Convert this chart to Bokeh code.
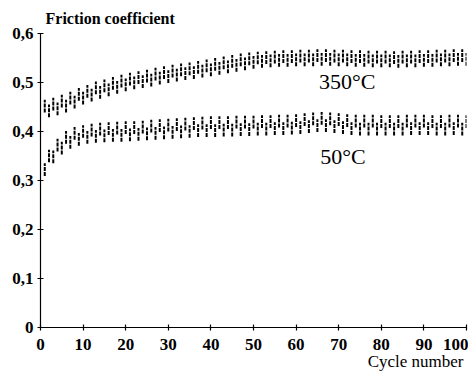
from bokeh.plotting import figure
from bokeh.models import Label, FixedTicker, Range1d, Title
from bokeh.embed import file_html
from bokeh.resources import INLINE

cycles = list(range(1, 101))

mu_350 = [0.452, 0.442, 0.456, 0.446, 0.462, 0.452, 0.468, 0.460, 0.476, 0.468,
          0.482, 0.474, 0.489, 0.480, 0.493, 0.485, 0.498, 0.490, 0.503, 0.495,
          0.507, 0.499, 0.510, 0.502, 0.513, 0.505, 0.517, 0.509, 0.520, 0.512,
          0.523, 0.515, 0.526, 0.518, 0.528, 0.520, 0.531, 0.523, 0.534, 0.526,
          0.537, 0.529, 0.540, 0.532, 0.543, 0.535, 0.546, 0.538, 0.548, 0.541,
          0.550, 0.543, 0.551, 0.544, 0.552, 0.545, 0.553, 0.545, 0.553, 0.546,
          0.554, 0.546, 0.554, 0.546, 0.555, 0.547, 0.555, 0.547, 0.554, 0.546,
          0.554, 0.546, 0.553, 0.545, 0.553, 0.545, 0.552, 0.544, 0.552, 0.544,
          0.552, 0.544, 0.551, 0.543, 0.552, 0.544, 0.552, 0.544, 0.553, 0.545,
          0.553, 0.545, 0.554, 0.546, 0.554, 0.546, 0.555, 0.547, 0.555, 0.547]

mu_50 = [0.322, 0.350, 0.348, 0.372, 0.366, 0.388, 0.378, 0.396, 0.384, 0.400,
         0.388, 0.403, 0.390, 0.405, 0.391, 0.406, 0.392, 0.407, 0.392, 0.408,
         0.393, 0.408, 0.394, 0.409, 0.395, 0.411, 0.396, 0.412, 0.397, 0.413,
         0.398, 0.414, 0.399, 0.415, 0.400, 0.416, 0.402, 0.417, 0.402, 0.418,
         0.402, 0.418, 0.403, 0.418, 0.403, 0.419, 0.404, 0.419, 0.404, 0.419,
         0.405, 0.420, 0.405, 0.420, 0.406, 0.421, 0.406, 0.421, 0.407, 0.422,
         0.408, 0.424, 0.410, 0.426, 0.412, 0.427, 0.412, 0.426, 0.410, 0.424,
         0.408, 0.422, 0.406, 0.421, 0.405, 0.421, 0.405, 0.421, 0.405, 0.420,
         0.405, 0.420, 0.405, 0.420, 0.405, 0.421, 0.406, 0.421, 0.406, 0.421,
         0.406, 0.420, 0.405, 0.420, 0.405, 0.421, 0.406, 0.421, 0.405, 0.420]

half_range_350 = 0.013
half_range_50 = 0.013

x_ticks = [0, 10, 20, 30, 40, 50, 60, 70, 80, 90, 100]
y_ticks = [0, 0.1, 0.2, 0.3, 0.4, 0.5, 0.6]
y_tick_labels = ["0", "0,1", "0,2", "0,3", "0,4", "0,5", "0,6"]

SERIF = "Liberation Serif"

p = figure(width=468, height=372, output_backend="svg", toolbar_location=None,
           x_range=Range1d(0, 100), y_range=Range1d(0, 0.6),
           min_border_left=40, min_border_right=2, min_border_top=33,
           min_border_bottom=45)
p.outline_line_color = None
p.grid.visible = False
p.background_fill_color = "white"

for mu, hr in ((mu_350, half_range_350), (mu_50, half_range_50)):
    lo = [m - hr for m in mu]
    hi = [m + hr for m in mu]
    p.segment(x0=cycles, y0=lo, x1=cycles, y1=hi, line_color="black",
              line_width=2, line_dash="4 1")

for ax in (p.xaxis[0], p.yaxis[0]):
    ax.axis_line_color = "black"
    ax.axis_line_width = 1.2
    ax.major_tick_in = 3
    ax.major_tick_out = 3
    ax.major_tick_line_width = 1.2
    ax.minor_tick_line_color = None
    ax.major_label_text_font = SERIF
    ax.major_label_text_font_style = "bold"
    ax.major_label_text_font_size = "17px"
    ax.major_label_text_color = "black"

p.xaxis.ticker = FixedTicker(ticks=x_ticks)
p.yaxis.ticker = FixedTicker(ticks=y_ticks)
p.yaxis.major_label_overrides = {t: l for t, l in zip(y_ticks, y_tick_labels)}
p.xaxis.major_label_standoff = 8
p.yaxis.major_label_standoff = 4

p.add_layout(Title(text="Friction coefficient", text_font=SERIF,
                   text_font_style="bold", text_font_size="16px",
                   text_color="black", align="left", offset=5, standoff=14), "above")
p.add_layout(Title(text="Cycle number", text_font=SERIF, text_font_style="normal",
                   text_font_size="17px", text_color="black", align="right",
                   offset=3, standoff=-5), "below")
p.add_layout(Label(x=72, y=0.502, text="350°C", text_font=SERIF, text_color="black",
                   text_font_size="22px", text_baseline="middle", text_align="center"))
p.add_layout(Label(x=71, y=0.349, text="50°C", text_font=SERIF, text_color="black",
                   text_font_size="22px", text_baseline="middle", text_align="center"))

open("out.html", "w").write(file_html(p, INLINE))
